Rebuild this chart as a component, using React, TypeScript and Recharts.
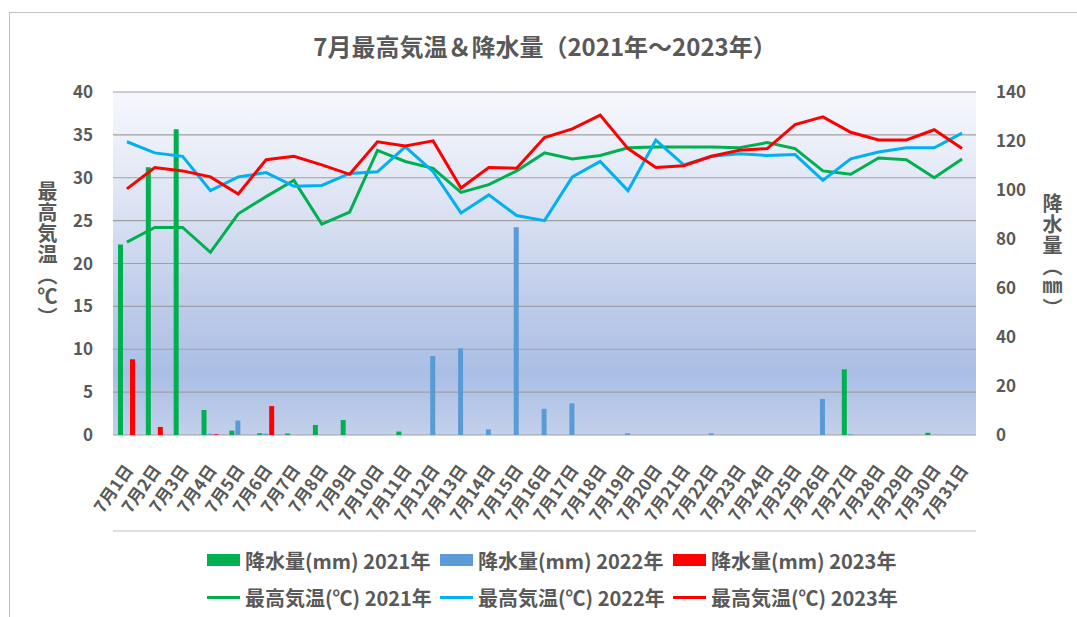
import React from 'react';
import { ComposedChart, Bar, Line, XAxis, YAxis, CartesianGrid } from 'recharts';

const days = [
  '7月1日', '7月2日', '7月3日', '7月4日', '7月5日', '7月6日', '7月7日', '7月8日',
  '7月9日', '7月10日', '7月11日', '7月12日', '7月13日', '7月14日', '7月15日', '7月16日',
  '7月17日', '7月18日', '7月19日', '7月20日', '7月21日', '7月22日', '7月23日', '7月24日',
  '7月25日', '7月26日', '7月27日', '7月28日', '7月29日', '7月30日', '7月31日',
];

const temp2021 = [22.5, 24.2, 24.2, 21.3, 25.8, 27.8, 29.7, 24.6, 26.0, 33.2, 31.9, 31.1, 28.3, 29.2, 30.8, 32.9, 32.2, 32.6, 33.5, 33.6, 33.6, 33.6, 33.5, 34.1, 33.4, 30.8, 30.4, 32.3, 32.1, 30.0, 32.2];
const temp2022 = [34.2, 32.9, 32.5, 28.5, 30.1, 30.6, 29.0, 29.1, 30.5, 30.7, 33.6, 30.7, 25.9, 28.0, 25.6, 25.0, 30.1, 31.9, 28.5, 34.4, 31.5, 32.5, 32.8, 32.6, 32.7, 29.7, 32.2, 33.0, 33.5, 33.5, 35.2];
const temp2023 = [28.7, 31.2, 30.8, 30.1, 28.1, 32.1, 32.5, 31.5, 30.4, 34.2, 33.7, 34.3, 28.8, 31.2, 31.1, 34.7, 35.7, 37.3, 33.4, 31.2, 31.4, 32.5, 33.2, 33.4, 36.2, 37.1, 35.3, 34.4, 34.4, 35.6, 33.4];

const rain2021 = [77.8, 109.3, 124.8, 10.2, 1.8, 0.7, 0.6, 4.1, 6.1, 0, 1.4, 0, 0, 0, 0, 0, 0, 0, 0, 0, 0, 0, 0, 0, 0, 0, 26.8, 0, 0, 0.9, 0];
const rain2022 = [0, 0, 0, 0.5, 5.9, 0.5, 0, 0, 0, 0, 0, 32.2, 35.4, 2.3, 84.8, 10.7, 12.9, 0, 0.7, 0, 0, 0.7, 0, 0, 0, 14.7, 0.3, 0, 0, 0, 0];
const rain2023 = [30.9, 3.3, 0, 0.3, 0, 11.8, 0, 0, 0, 0, 0, 0, 0, 0, 0, 0, 0, 0, 0, 0, 0, 0, 0, 0, 0, 0, 0, 0, 0, 0, 0];

const tempTicks = [0, 5, 10, 15, 20, 25, 30, 35, 40];
const rainTicks = [0, 20, 40, 60, 80, 100, 120, 140];
const boundaryTicks = Array.from({ length: days.length + 1 }, (_, i) => i);

const title = '7月最高気温＆降水量（2021年～2023年）';
const leftTitle = '最高気温（℃）';
const rightTitle = '降水量（㎜）';

const GREEN = '#00b050';
const BLUE_BAR = '#5b9bd5';
const BLUE_LINE = '#00b0f0';
const RED = '#ff0000';
const TEXT = '#595959';
const FONT = '"Noto Sans CJK JP", "Noto Sans", sans-serif';

const barSeries = [
  { key: 'r2021', name: '降水量(mm) 2021年', color: GREEN },
  { key: 'r2022', name: '降水量(mm) 2022年', color: BLUE_BAR },
  { key: 'r2023', name: '降水量(mm) 2023年', color: RED },
];
const lineSeries = [
  { key: 't2021', name: '最高気温(℃) 2021年', color: GREEN },
  { key: 't2022', name: '最高気温(℃) 2022年', color: BLUE_LINE },
  { key: 't2023', name: '最高気温(℃) 2023年', color: RED },
];

const data = days.map((d, i) => ({
  day: d,
  r2021: rain2021[i],
  r2022: rain2022[i],
  r2023: rain2023[i],
  t2021: temp2021[i],
  t2022: temp2022[i],
  t2023: temp2023[i],
}));

const XTick = (props: any) => {
  const { x, y, payload } = props;
  return (
    <g transform={`translate(${x + 7},${y + 33}) rotate(-55)`}>
      <text x={0} y={0} textAnchor="end" fontSize={17} fontWeight={700} fill={TEXT} fontFamily={FONT}>
        {payload.value}
      </text>
    </g>
  );
};

const legendCols = [207, 440, 673];

export default function App() {
  return (
    <div style={{ position: 'absolute', left: 0, top: 0, width: 1077, height: 617, background: '#fff', overflow: 'hidden', fontFamily: FONT }}>
      <div style={{ position: 'absolute', left: 9, top: 12, width: 1100, height: 700, borderTop: '1.5px solid #bfbfbf', borderLeft: '1.5px solid #bfbfbf' }} />
      <div style={{ position: 'absolute', left: 0, width: 1090, top: 30, textAlign: 'center', fontSize: 24, fontWeight: 700, color: TEXT, lineHeight: '32px' }}>
        {title}
      </div>
      <ComposedChart
        width={1077}
        height={617}
        data={data}
        margin={{ top: 92, right: 41, bottom: 80, left: 53 }}
        barGap={1}
        style={{ position: 'absolute', left: 0, top: 0 }}
      >
        <defs>
          <linearGradient id="plotBg" x1="0" y1="0" x2="0" y2="1">
            <stop offset="0%" stopColor="#f6f8fd" />
            <stop offset="30%" stopColor="#dfe5f4" />
            <stop offset="60%" stopColor="#c0cdea" />
            <stop offset="82%" stopColor="#aabee5" />
            <stop offset="100%" stopColor="#c3d0eb" />
          </linearGradient>
        </defs>
        <CartesianGrid yAxisId="left" xAxisId="cat" vertical={false} stroke="#a0a0a0" strokeWidth={1.2} fill="url(#plotBg)" fillOpacity={1} />
        <XAxis
          xAxisId="grid"
          type="number"
          domain={[0, days.length]}
          ticks={boundaryTicks}
          interval={0}
          allowDataOverflow
          tick={false}
          tickSize={6}
          height={6}
          tickLine={{ stroke: '#bfbfbf' }}
          axisLine={{ stroke: '#bfbfbf' }}
        />
        <XAxis
          xAxisId="cat"
          dataKey="day"
          interval={0}
          height={96}
          tickLine={false}
          axisLine={false}
          tickSize={0}
          tick={<XTick />}
        />
        <YAxis
          yAxisId="left"
          orientation="left"
          domain={[0, 40]}
          ticks={tempTicks}
          width={60}
          axisLine={false}
          tickLine={false}
          tickSize={0}
          tickMargin={20}
          tick={{ fontSize: 17, fontWeight: 700, fill: TEXT, fontFamily: FONT }}
        />
        <YAxis
          yAxisId="right"
          orientation="right"
          domain={[0, 140]}
          ticks={rainTicks}
          width={60}
          axisLine={false}
          tickLine={false}
          tickSize={0}
          tickMargin={20}
          tick={{ fontSize: 17, fontWeight: 700, fill: TEXT, fontFamily: FONT, textAnchor: 'start' }}
        />
        {barSeries.map((s) => (
          <Bar key={s.key} xAxisId="cat" yAxisId="right" dataKey={s.key} name={s.name} fill={s.color} barSize={5} isAnimationActive={false} />
        ))}
        {lineSeries.map((s) => (
          <Line key={s.key} xAxisId="cat" yAxisId="left" type="linear" dataKey={s.key} name={s.name} stroke={s.color} strokeWidth={3} dot={false} activeDot={false} isAnimationActive={false} />
        ))}
      </ComposedChart>
      <div style={{ position: 'absolute', left: 36, top: 181, writingMode: 'vertical-rl', fontSize: 20, fontWeight: 700, color: TEXT, lineHeight: '22px', letterSpacing: 1 }}>
        {leftTitle}
      </div>
      <div style={{ position: 'absolute', left: 1041, top: 193, writingMode: 'vertical-rl', fontSize: 20, fontWeight: 700, color: TEXT, lineHeight: '22px', letterSpacing: 1 }}>
        {rightTitle}
      </div>
      {barSeries.map((s, i) => (
        <div key={s.key} style={{ position: 'absolute', left: legendCols[i], top: 547, height: 26, display: 'flex', alignItems: 'center', fontSize: 20, fontWeight: 700, color: TEXT, whiteSpace: 'nowrap' }}>
          <span style={{ display: 'inline-block', width: 33, height: 12, background: s.color, marginRight: 5 }} />
          {s.name}
        </div>
      ))}
      {lineSeries.map((s, i) => (
        <div key={s.key} style={{ position: 'absolute', left: legendCols[i], top: 584, height: 26, display: 'flex', alignItems: 'center', fontSize: 20, fontWeight: 700, color: TEXT, whiteSpace: 'nowrap' }}>
          <span style={{ display: 'inline-block', width: 33, height: 3, background: s.color, marginRight: 5 }} />
          {s.name}
        </div>
      ))}
    </div>
  );
}
